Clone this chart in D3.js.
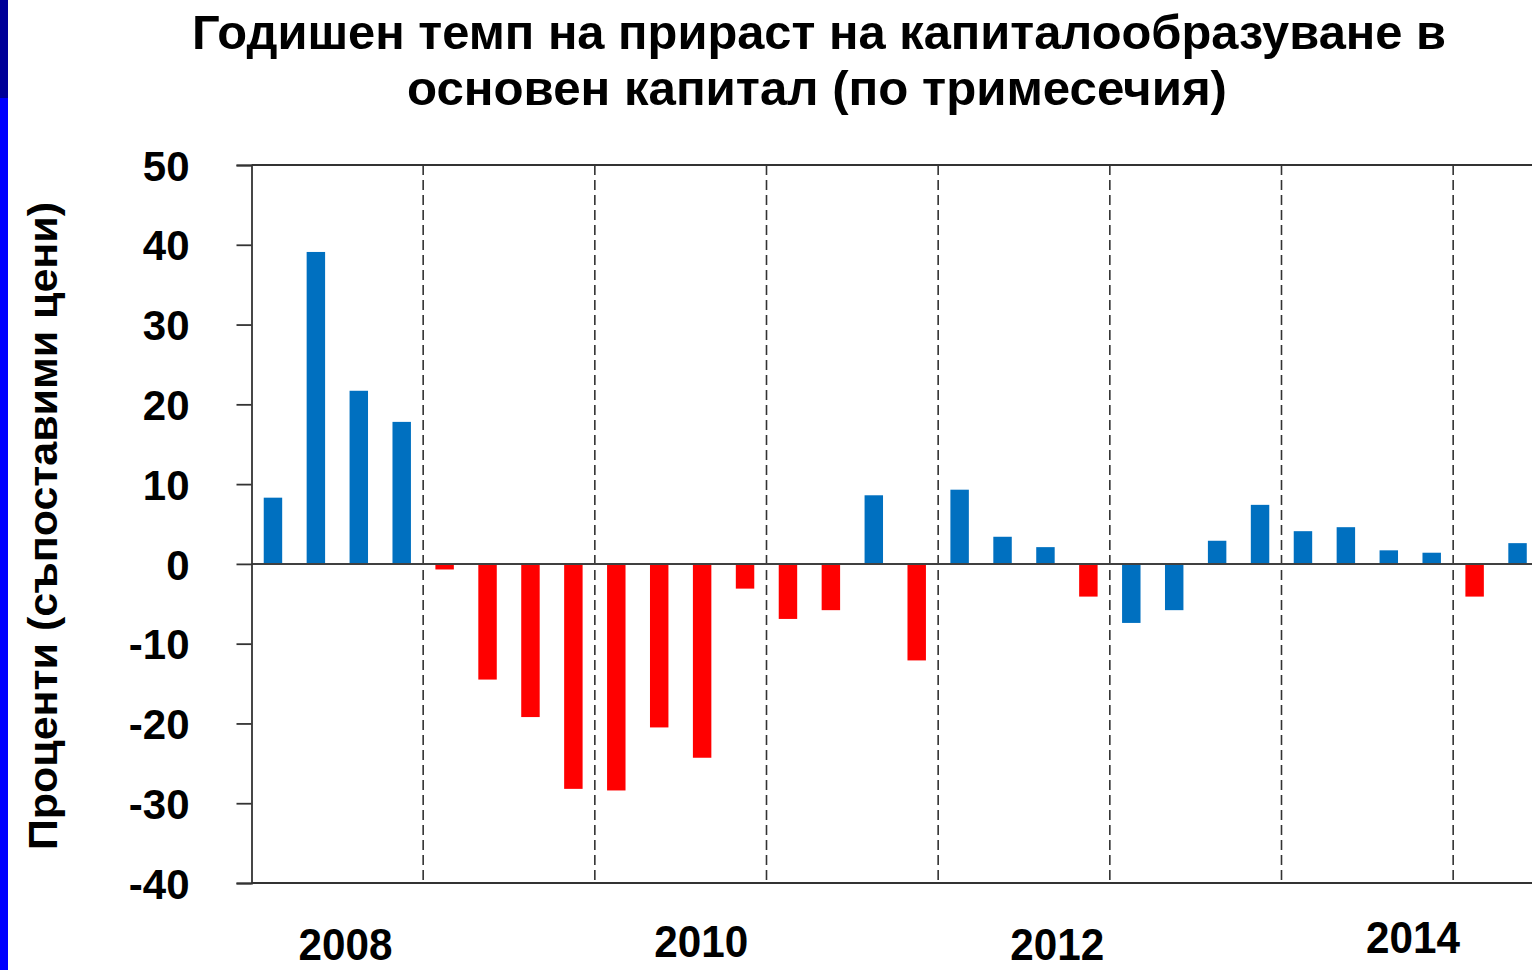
<!DOCTYPE html>
<html>
<head>
<meta charset="utf-8">
<script src="https://cdn.jsdelivr.net/npm/d3@7"></script>
<style>
  html, body { margin: 0; padding: 0; background: #ffffff; }
  svg { display: block; }
  text { font-family: "Liberation Sans", Arial, sans-serif; font-weight: bold; fill: #000; }
</style>
</head>
<body>
<svg id="chart" width="1532" height="970"></svg>
<script>
// ---- data ----
const titleLines = ["Годишен темп на прираст на капиталообразуване в", "основен капитал (по тримесечия)"];
const yAxisTitle = "Проценти (съпоставими цени)";
const quarters = [
  "2008Q1","2008Q2","2008Q3","2008Q4",
  "2009Q1","2009Q2","2009Q3","2009Q4",
  "2010Q1","2010Q2","2010Q3","2010Q4",
  "2011Q1","2011Q2","2011Q3","2011Q4",
  "2012Q1","2012Q2","2012Q3","2012Q4",
  "2013Q1","2013Q2","2013Q3","2013Q4",
  "2014Q1","2014Q2","2014Q3","2014Q4",
  "2015Q1","2015Q2"
];
const values = [
  8.3, 39.1, 21.7, 17.8,
  -0.7, -14.5, -19.2, -28.2,
  -28.4, -20.5, -24.3, -3.1,
  -6.9, -5.8, 8.6, -12.1,
  9.3, 3.4, 2.1, -4.1,
  -7.4, -5.8, 2.9, 7.4,
  4.1, 4.6, 1.7, 1.4,
  -4.1, 2.6
];
// which bars are drawn in the highlight (red) series
const isRed = [
  0,0,0,0,
  1,1,1,1,
  1,1,1,1,
  1,1,0,1,
  0,0,0,1,
  0,0,0,0,
  0,0,0,0,
  1,0
];
const yTicks = [-40, -30, -20, -10, 0, 10, 20, 30, 40, 50];
const yearLabels = [2008, 2010, 2012, 2014];
const yearBoundaries = [2009, 2010, 2011, 2012, 2013, 2014, 2015];

// ---- layout ----
const svg = d3.select("#chart");
const W = 1532, H = 970;
const plotLeft = 251.5, plotRight = 1539, plotTop = 165, plotBottom = 883;
const BLUE = "#0070C0", RED = "#FF0000", AXIS = "#333333";

// left decorative strip
svg.append("rect").attr("x", 0).attr("y", 0).attr("width", 8).attr("height", 98).attr("fill", "#000099");
svg.append("rect").attr("x", 0).attr("y", 98).attr("width", 8).attr("height", H - 98).attr("fill", "#0000FF");

const x = d3.scaleBand().domain(quarters).range([plotLeft, plotRight])
  .paddingInner(0.57).paddingOuter(0.285);
const step = x.step();
const y = d3.scaleLinear().domain([-40, 50]).range([plotBottom, plotTop]);

// year boundary position (start of the year's first quarter slot)
const yearStart = yr => x(yr + "Q1") - step * 0.285;

// title
const title = svg.append("g");
const tl = [[819, 49, 1254], [817, 105, 820]];
titleLines.forEach((t, i) => {
  title.append("text")
    .attr("x", tl[i][0]).attr("y", tl[i][1])
    .attr("text-anchor", "middle")
    .attr("font-size", 48)
    .attr("textLength", tl[i][2])
    .attr("lengthAdjust", "spacingAndGlyphs")
    .text(t);
});

// y-axis title
svg.append("text")
  .attr("transform", "translate(57,526) rotate(-90)")
  .attr("text-anchor", "middle")
  .attr("font-size", 40)
  .attr("textLength", 648)
  .attr("lengthAdjust", "spacingAndGlyphs")
  .text(yAxisTitle);

// dashed year separators
svg.append("g").selectAll("line").data(yearBoundaries).join("line")
  .attr("x1", d => yearStart(d)).attr("x2", d => yearStart(d))
  .attr("y1", plotTop).attr("y2", plotBottom)
  .attr("stroke", AXIS).attr("stroke-width", 1.6)
  .attr("stroke-dasharray", "10,5");

// top and bottom frame lines
svg.append("line").attr("x1", plotLeft).attr("x2", W).attr("y1", y(50)).attr("y2", y(50))
  .attr("stroke", AXIS).attr("stroke-width", 1.8);
svg.append("line").attr("x1", plotLeft).attr("x2", W).attr("y1", y(-40)).attr("y2", y(-40))
  .attr("stroke", AXIS).attr("stroke-width", 1.8);

// bars
svg.append("g").selectAll("rect").data(quarters).join("rect")
  .attr("x", d => x(d))
  .attr("width", x.bandwidth())
  .attr("y", (d, i) => y(Math.max(0, values[i])))
  .attr("height", (d, i) => Math.abs(y(values[i]) - y(0)))
  .attr("fill", (d, i) => isRed[i] ? RED : BLUE);

// zero line
svg.append("line").attr("x1", plotLeft).attr("x2", W).attr("y1", y(0)).attr("y2", y(0))
  .attr("stroke", "#404040").attr("stroke-width", 2);

// y axis
const yAxis = svg.append("g").attr("transform", `translate(${plotLeft},0)`)
  .call(d3.axisLeft(y).tickValues(yTicks).tickSize(15).tickPadding(47).tickFormat(d => String(d)));
yAxis.select(".domain").attr("stroke", AXIS).attr("stroke-width", 1.8);
yAxis.selectAll(".tick line").attr("stroke", AXIS).attr("stroke-width", 1.8);
yAxis.selectAll(".tick text")
  .attr("font-family", "'Liberation Sans', Arial, sans-serif")
  .attr("font-weight", "bold")
  .attr("font-size", 42)
  .attr("fill", "#000")
  .attr("dy", "0.36em");

// year labels
const yearX = d3.scaleLinear().domain([2008, 2014]).range([345.5, 1413]);
const yearY = { 2008: 960, 2010: 957, 2012: 960, 2014: 953 };
svg.append("g").selectAll("text").data(yearLabels).join("text")
  .attr("x", d => yearX(d))
  .attr("y", d => yearY[d])
  .attr("text-anchor", "middle")
  .attr("font-size", 44)
  .attr("textLength", 94)
  .attr("lengthAdjust", "spacingAndGlyphs")
  .text(d => d);
</script>
</body>
</html>
